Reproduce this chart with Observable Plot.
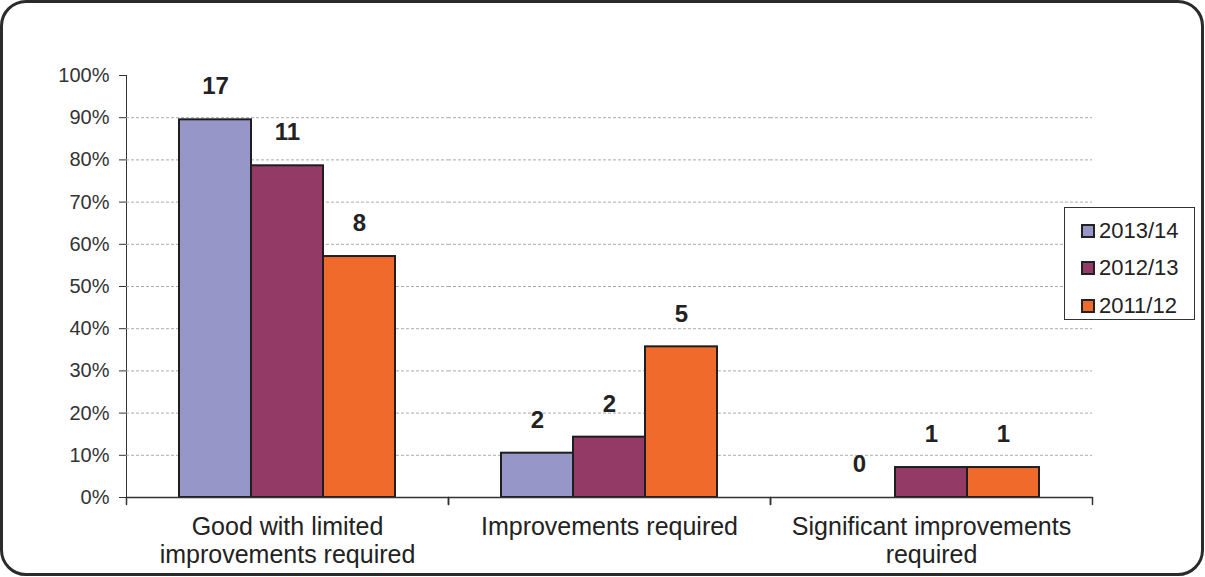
<!DOCTYPE html>
<html><head><meta charset="utf-8">
<script src="https://cdn.jsdelivr.net/npm/d3@7"></script>
<script src="https://cdn.jsdelivr.net/npm/@observablehq/plot@0.6"></script>
<style>
body{margin:0;background:#fff;}
#wrap{position:relative;width:1205px;height:577px;overflow:hidden;font-family:"Liberation Sans",Arial,sans-serif;background:#fff;}
#chart{position:absolute;left:0;top:0;}
#frame{position:absolute;left:0;top:0;width:1204px;height:576px;border:3px solid #2b2b2b;border-radius:26px;box-sizing:border-box;pointer-events:none;}
#legend{position:absolute;left:1064px;top:207px;width:131px;height:113px;border:1.5px solid #333;box-sizing:border-box;background:#fff;padding-top:4px;}
.item{display:flex;align-items:center;height:37.5px;padding-left:16px;font-size:22px;color:#222;}
.sw{width:10px;height:10px;border:2px solid #222;margin-right:4px;}
</style>
</head><body>
<div id="wrap"><div id="chart"></div><div id="legend"></div><div id="frame"></div></div>
<script>
const categories = ["Good with limited improvements required", "Improvements required", "Significant improvements required"];
const categoryLabels = ["Good with limited\nimprovements required", "Improvements required", "Significant improvements\nrequired"];
const series = ["2013/14", "2012/13", "2011/12"];
const colors = ["#9796C9", "#933B66", "#F06B2B"];
const counts2013 = [17, 2, 0];
const counts2012 = [11, 2, 1];
const counts2011 = [8, 5, 1];
const pct2013 = [89.5, 10.5, 0];
const pct2012 = [78.6, 14.3, 7.1];
const pct2011 = [57.1, 35.7, 7.1];
const yTicks = [0, 10, 20, 30, 40, 50, 60, 70, 80, 90, 100];
const gridTicks = [10, 20, 30, 40, 50, 60, 70, 80, 90];

const countsBySeries = [counts2013, counts2012, counts2011];
const pctBySeries = [pct2013, pct2012, pct2011];
const data = [];
categories.forEach((c, i) => series.forEach((s, j) => data.push({category: c, series: s, pct: pctBySeries[j][i], count: countsBySeries[j][i]})));
const labelData = categories.map((c, i) => ({category: c, label: categoryLabels[i]}));

const tickShape = {draw(context, l) { context.moveTo(0, 0); context.lineTo(0, -l); }};

const chart = Plot.plot({
  width: 1205, height: 577,
  marginLeft: 126, marginRight: 113, marginTop: 75, marginBottom: 80,
  style: {fontFamily: "'Liberation Sans', Arial, sans-serif", fontSize: "20px", color: "#333", background: "transparent", overflow: "visible"},
  fx: {domain: categories, padding: 0, axis: null},
  x: {domain: series, paddingInner: 0, paddingOuter: 0.727, axis: null},
  y: {domain: [0, 100], ticks: yTicks, tickFormat: d => d + "%", tickSize: 7, tickPadding: 10, line: true, label: null},
  color: {domain: series, range: colors},
  marks: [
    Plot.ruleY(gridTicks, {stroke: "#aaa", strokeWidth: 1, strokeDasharray: "3,2"}),
    Plot.barY(data.filter(d => d.pct > 0), {fx: "category", x: "series", y: "pct", fill: "series", stroke: "#1e1e1e", strokeWidth: 2, inset: 0}),
    Plot.text(data, {fx: "category", x: "series", y: "pct", text: d => String(d.count), dy: -33, fontSize: 24, fontWeight: "bold", fill: "#222"}),
    Plot.ruleY([0], {stroke: "#333", strokeWidth: 1.5}),
    Plot.vector([0], {frameAnchor: "bottom-left", length: 7, rotate: 180, anchor: "start", shape: tickShape, stroke: "#333", strokeWidth: 1.5}),
    Plot.vector([0], {frameAnchor: "bottom-right", length: 7, rotate: 180, anchor: "start", shape: tickShape, stroke: "#333", strokeWidth: 1.5}),
    Plot.text(labelData, {fx: "category", text: "label", frameAnchor: "bottom", lineAnchor: "top", dy: 18, fontSize: 25, lineHeight: 1.12, fill: "#222"})
  ]
});
document.getElementById("chart").appendChild(chart);

const legend = document.getElementById("legend");
series.forEach((s, i) => {
  const row = document.createElement("div");
  row.className = "item";
  const sw = document.createElement("span");
  sw.className = "sw";
  sw.style.background = colors[i];
  row.appendChild(sw);
  row.appendChild(document.createTextNode(s));
  legend.appendChild(row);
});
</script>
</body></html>
